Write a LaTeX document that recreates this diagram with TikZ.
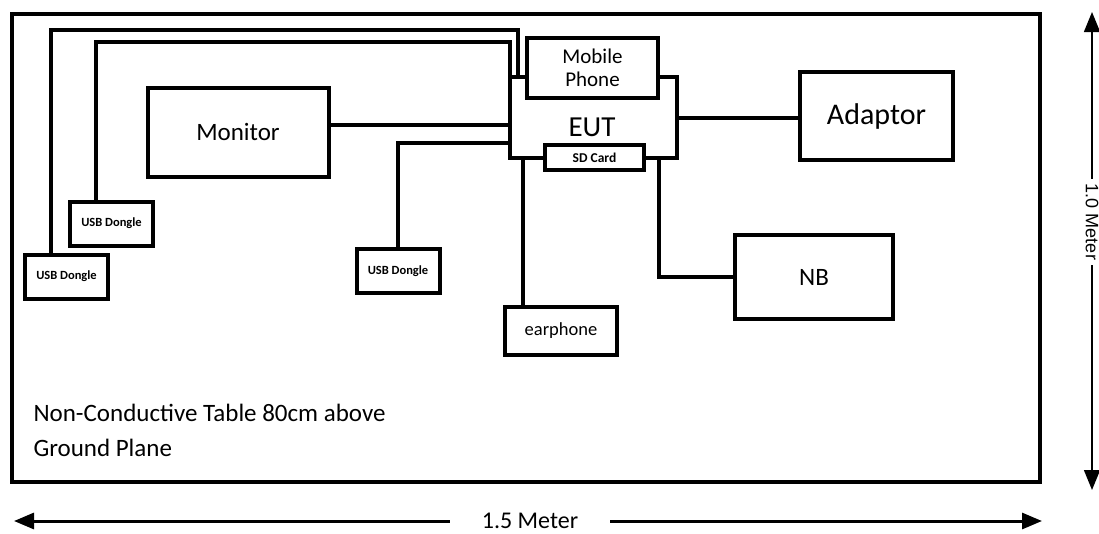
\documentclass[tikz,border=0pt]{standalone}
\usepackage{fontspec}
\setmainfont{Carlito}
\newfontfamily\arialfont{Liberation Sans}
\usetikzlibrary{arrows.meta, positioning}

\begin{document}
\begin{tikzpicture}[x=1pt, y=-1pt,
  dev/.style={draw, line width=4pt, fill=white, inner sep=2pt, align=center},
  usb/.style={minimum width=83pt, minimum height=44pt,
              font=\bfseries\fontsize{12.5}{15}\selectfont},
  wire/.style={line width=4pt},
  dim/.style={line width=3pt, -{Triangle[length=20pt,width=16pt]}},
]
  \useasboundingbox (0,0) rectangle (1099,533);

  % table
  \node[draw, line width=4.5pt, minimum width=1028pt, minimum height=468pt] (table) at (526,248) {};

  % devices
  \node[dev, minimum width=181pt, minimum height=89pt, font=\fontsize{25}{30}\selectfont] (mon) at (238,132) {Monitor};
  \node[dev, minimum width=167pt, minimum height=81pt] (eut) at (593.5,117.5) {};
  \node[font=\fontsize{29}{34}\selectfont] (euttxt) at (592,127) {EUT};
  \node[dev, minimum width=131pt, minimum height=60pt, font=\fontsize{21}{23}\selectfont] (phone) at (592.5,68) {Mobile\\Phone};
  \node[dev, minimum width=99pt, minimum height=25pt, inner sep=0pt, font=\bfseries\fontsize{13.5}{15}\selectfont] (sd) at (594.5,157.5) {SD Card};
  \node[dev, minimum width=153pt, minimum height=88pt, font=\fontsize{30}{36}\selectfont] (ada) at (876.5,116) {Adaptor};
  \node[dev, minimum width=158pt, minimum height=84pt, font=\fontsize{25}{30}\selectfont] (nb) at (814,277) {NB};
  \node[dev, minimum width=112pt, minimum height=48pt, font=\fontsize{18.5}{22}\selectfont] (ear) at (561,331) {earphone};
  \node[dev, usb] (usbA) at (66.5,276.5) {USB Dongle};
  \node[dev, usb] (usbB) at (111.5,223.5) {USB Dongle};
  \node[dev, usb] (usbC) at (398,271) {USB Dongle};

  % cables
  \coordinate (w1) at (518,30);
  \coordinate (w2) at (510,42);
  \coordinate (mw) at ([yshift=7pt]mon.east);
  \coordinate (uw) at ([yshift=17pt]eut.south west);
  \coordinate (ew) at ([xshift=20pt]ear.north west);
  \coordinate (nw) at ([xshift=-20pt]eut.south east);
  \draw[wire] ([xshift=28pt]usbA.north west) |- (w1) -- (w1 |- eut.north);
  \draw[wire] ([xshift=28pt]usbB.north west) |- (w2) -- (w2 |- eut.north);
  \draw[wire] (mw) -- (mw -| eut.west);
  \draw[wire] (uw) -| (usbC.north);
  \draw[wire] (ew) -- (ew |- eut.south);
  \draw[wire] (nw) |- (nb.west);
  \draw[wire] (eut.east) -- (eut.east -| ada.west);

  \node[anchor=west, align=left, font=\fontsize{25}{35}\selectfont] (note) at (30,430)
    {Non-Conductive Table 80cm above\\Ground Plane};

  % dimensions
  \node[font=\fontsize{24}{28}\selectfont, inner xsep=32pt] (hdim) at (530,521) {1.5 Meter};
  \coordinate (hl) at (14,521);
  \coordinate (hr) at (1042,521);
  \draw[dim] (hdim.west) -- (hl);
  \draw[dim] (hdim.east) -- (hr);
  \node[font=\arialfont\fontsize{18}{22}\selectfont, rotate=-90, inner xsep=5pt] (vdim) at (1092,222) {1.0 Meter};
  \coordinate (vt) at (1092,12);
  \coordinate (vb) at (1092,490);
  \draw[dim, line width=1.5pt] (vdim.west) -- (vt);
  \draw[dim, line width=1.5pt] (vdim.east) -- (vb);
\end{tikzpicture}
\end{document}
